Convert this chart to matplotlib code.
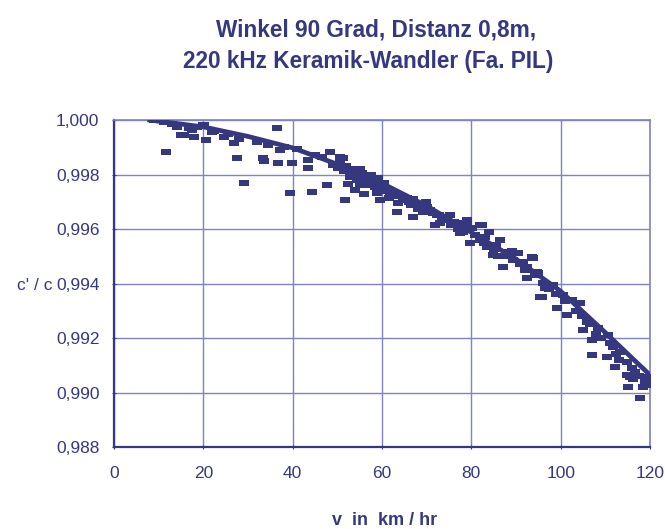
import matplotlib.pyplot as plt
from matplotlib.ticker import FuncFormatter

speed = [9.0, 11.2, 14.1, 15.0, 17.5, 17.9, 20.1, 20.6, 21.9, 24.6, 26.9, 27.5, 11.6, 29.1, 15.7, 16.8,
         19.9, 22.5, 25.5, 28.0, 13.0, 18.5,
         36.5, 33.4, 36.7, 39.8, 39.4, 37.2, 43.4, 43.4, 44.3, 48.4, 47.7, 50.6, 50.1, 51.7, 46.6, 49.0,
         32.0, 34.5, 41.0, 45.0, 33.5, 38.0,
         51.3, 52.8, 53.9, 55.7, 55.1, 58.0, 59.1, 58.9, 59.6, 52.0, 53.0, 54.5, 56.5, 57.0, 54.0, 56.0,
         57.5, 60.5, 61.0, 52.5, 55.0, 58.5,
         50.5, 51.5, 53.5, 54.8, 56.2, 57.3, 58.2, 59.8, 60.2, 61.8, 53.2, 55.5,
         62.5, 63.4, 63.6, 65.6, 67.8, 69.2, 70.7, 72.3, 74.6, 73.0, 76.8, 79.0, 80.1, 78.1, 66.9, 62.0,
         64.5, 66.0, 68.5, 71.5, 73.5, 75.5, 77.0, 71.9, 75.2, 67.0, 61.5, 69.8,
         63.0, 64.8, 66.5, 68.0, 70.0, 72.8, 74.0, 76.2, 78.6,
         79.0, 81.9, 82.4, 77.5, 79.7, 81.9, 83.5, 86.4, 88.0, 90.4, 87.1, 93.8, 92.5, 94.7, 96.5, 95.8,
         89.3, 84.8, 85.5, 83.0, 91.5, 89.0, 86.0, 84.0,
         80.8, 82.8, 85.0, 87.5, 88.6, 90.8, 92.0, 94.2,
         93.6, 92.5, 94.9, 92.5, 96.0, 98.3, 95.4, 100.5, 99.2, 102.5, 104.3, 101.4, 105.9, 105.0, 108.4,
         107.0, 107.0, 110.6, 110.4, 111.7, 113.3, 112.2, 114.8, 114.8, 115.5, 116.6, 115.1, 118.9, 118.4,
         119.3, 117.8, 119.3, 97.5, 99.0, 103.5, 106.5, 109.0, 111.0, 113.0, 116.0, 117.5, 120.0,
         96.8, 101.0, 104.8, 108.0, 112.5, 116.3]
ratio = [1.0000, 0.99993, 0.99974, 0.99945, 0.99963, 0.99938, 0.99982, 0.99927, 0.99956, 0.99938, 0.99916,
         0.99861, 0.99883, 0.99769, 0.99945, 0.99971, 0.99982, 0.99960, 0.99950, 0.99930, 0.99985, 0.99975,
         0.99971, 0.99861, 0.99842, 0.99842, 0.99732, 0.99890, 0.99853, 0.99824, 0.99736, 0.99883, 0.99761,
         0.99864, 0.99824, 0.99706, 0.99864, 0.99835, 0.99920, 0.99910, 0.99895, 0.99870, 0.99850, 0.99900,
         0.99861, 0.99791, 0.99809, 0.99798, 0.99761, 0.99780, 0.99787, 0.99732, 0.99706, 0.99830, 0.99820,
         0.99780, 0.99775, 0.99760, 0.99745, 0.99730, 0.99800, 0.99770, 0.99750, 0.99765, 0.99820, 0.99755,
         0.99845, 0.99812, 0.99795, 0.99790, 0.99785, 0.99770, 0.99765, 0.99758, 0.99740, 0.99725, 0.99805,
         0.99805,
         0.99732, 0.99662, 0.99695, 0.99714, 0.99688, 0.99662, 0.99670, 0.99651, 0.99640, 0.99622, 0.99622,
         0.99633, 0.99604, 0.99589, 0.99644, 0.99740, 0.99720, 0.99700, 0.99690, 0.99660, 0.99640, 0.99615,
         0.99600, 0.99615, 0.99651, 0.99710, 0.99715, 0.99700,
         0.99722, 0.99705, 0.99690, 0.99675, 0.99680, 0.99650, 0.99635, 0.99625, 0.99605,
         0.99622, 0.99615, 0.99615, 0.99585, 0.99549, 0.99560, 0.99534, 0.99560, 0.99516, 0.99512, 0.99461,
         0.99494, 0.99461, 0.99442, 0.99383, 0.99350, 0.99486, 0.99505, 0.99540, 0.99570, 0.99480, 0.99520,
         0.99500, 0.99590,
         0.99580, 0.99550, 0.99525, 0.99500, 0.99505, 0.99470, 0.99450, 0.99430,
         0.99497, 0.99461, 0.99438, 0.99420, 0.99402, 0.99394, 0.99350, 0.99358, 0.99310, 0.99339, 0.99328,
         0.99284, 0.99259, 0.99229, 0.99237, 0.99193, 0.99138, 0.99211, 0.99130, 0.99167, 0.99149, 0.99094,
         0.99112, 0.99064, 0.99057, 0.99075, 0.99020, 0.99038, 0.99020, 0.99057, 0.98980, 0.99027, 0.99380,
         0.99360, 0.99300, 0.99250, 0.99200, 0.99180, 0.99120, 0.99090, 0.99060, 0.99050,
         0.99400, 0.99335, 0.99280, 0.99215, 0.99140, 0.99050]

# Ausgleichskurve
speed_fit = [8, 20, 30, 40, 50, 60, 70, 80, 90, 100, 110, 120]
ratio_fit = [1.0000, 0.99975, 0.99940, 0.99898, 0.99838, 0.99768, 0.99685, 0.99588, 0.99490, 0.99372,
             0.99220, 0.99064]

x_ticks = [0, 20, 40, 60, 80, 100, 120]
y_ticks = [0.988, 0.990, 0.992, 0.994, 0.996, 0.998, 1.000]

navy = '#36387f'
grid_col = '#7f83c6'
plt.rcParams['font.family'] = ['Liberation Sans', 'DejaVu Sans']

fig = plt.figure(figsize=(6.65, 5.29), dpi=100)
ax = fig.add_axes([0.1714, 0.155, 0.806, 0.618])

ax.scatter(speed, ratio, marker=[(-1, -0.65), (1, -0.65), (1, 0.65), (-1, 0.65)], s=46,
           color=navy, linewidths=0, zorder=3)
ax.plot(speed_fit, ratio_fit, color=navy, lw=3.4, zorder=4)

ax.set_xlim(0, 120)
ax.set_ylim(0.988, 1.000)
ax.set_xticks(x_ticks)
ax.set_yticks(y_ticks)
ax.yaxis.set_major_formatter(FuncFormatter(lambda v, p: f'{v:.3f}'.replace('.', ',')))
ax.grid(True, color=grid_col, lw=1.0)
for s in ax.spines.values():
    s.set_color(grid_col)
    s.set_linewidth(1.2)
ax.spines['left'].set_color(navy)
ax.spines['bottom'].set_color(navy)
ax.spines['left'].set_linewidth(1.6)
ax.spines['bottom'].set_linewidth(1.6)
ax.tick_params(colors=navy, labelcolor=navy, labelsize=12.5, length=3, direction='inout')
ax.tick_params(axis='x', pad=12)
ax.tick_params(axis='y', pad=9)

fig.text(0.566, 0.943, 'Winkel 90 Grad, Distanz 0,8m,', ha='center', va='center',
         fontsize=16.3, fontweight='bold', color=navy)
fig.text(0.553, 0.883, '220 kHz Keramik-Wandler (Fa. PIL)', ha='center', va='center',
         fontsize=16.3, fontweight='bold', color=navy)
fig.text(0.053, 0.461, "c' / c", ha='center', va='center', fontsize=12.5, color=navy)
fig.text(0.579, 0.016, 'v  in  km / hr', ha='center', va='center', fontsize=13,
         fontweight='bold', color=navy)

fig.savefig('out.png', dpi=100)
